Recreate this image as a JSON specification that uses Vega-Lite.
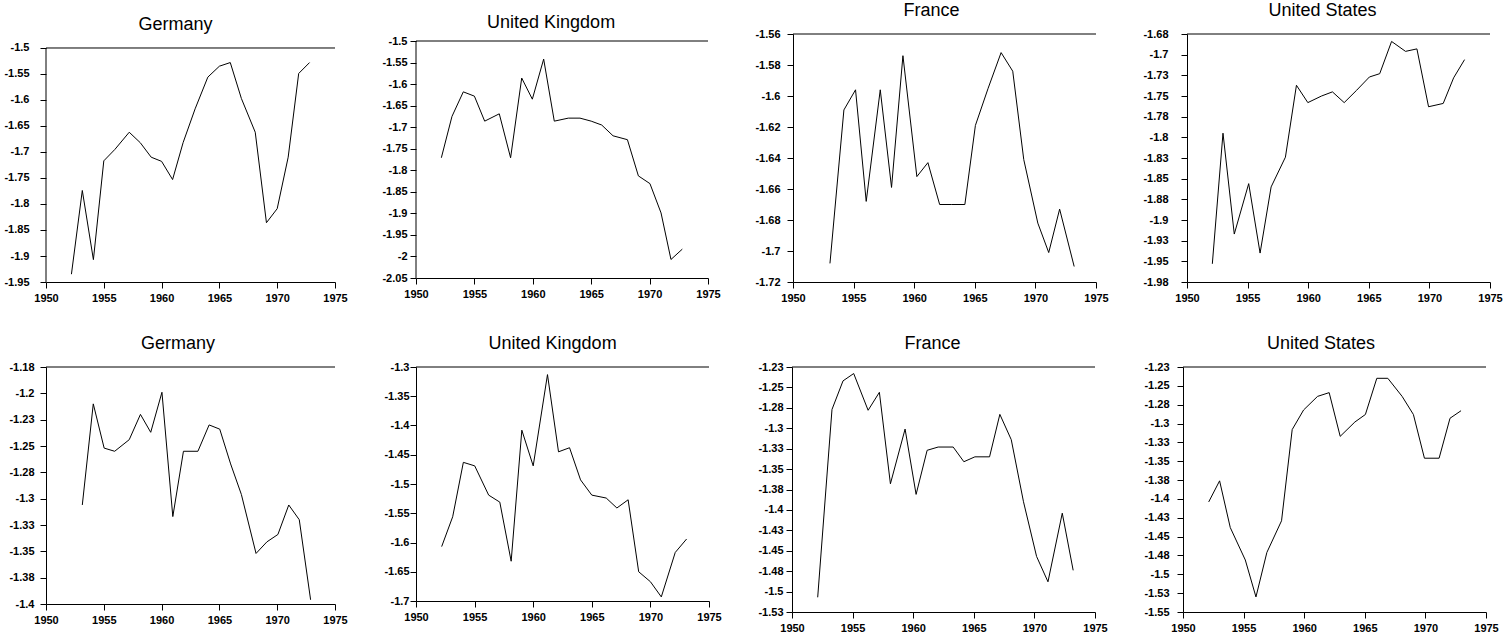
{
  "$schema": "https://vega.github.io/schema/vega-lite/v6.json",
  "padding": {"left": 3, "top": 2, "right": 0, "bottom": 0},
  "background": "white",
  "data": {"values": [
    {"p":"de1","year":1952.2,"v":-1.935},{"p":"de1","year":1953.14,"v":-1.774},{"p":"de1","year":1954.1,"v":-1.907},{"p":"de1","year":1955.0,"v":-1.717},{"p":"de1","year":1955.96,"v":-1.695},{"p":"de1","year":1957.2,"v":-1.662},{"p":"de1","year":1958.15,"v":-1.682},{"p":"de1","year":1959.1,"v":-1.71},{"p":"de1","year":1960.0,"v":-1.718},{"p":"de1","year":1960.95,"v":-1.753},{"p":"de1","year":1961.86,"v":-1.682},{"p":"de1","year":1962.9,"v":-1.617},{"p":"de1","year":1964.0,"v":-1.556},{"p":"de1","year":1965.0,"v":-1.535},{"p":"de1","year":1965.94,"v":-1.528},{"p":"de1","year":1966.9,"v":-1.597},{"p":"de1","year":1968.1,"v":-1.662},{"p":"de1","year":1969.07,"v":-1.836},{"p":"de1","year":1970.0,"v":-1.809},{"p":"de1","year":1970.95,"v":-1.71},{"p":"de1","year":1971.86,"v":-1.549},{"p":"de1","year":1972.8,"v":-1.528},
    {"p":"uk1","year":1952.17,"v":-1.771},{"p":"uk1","year":1953.08,"v":-1.675},{"p":"uk1","year":1954.05,"v":-1.618},{"p":"uk1","year":1955.0,"v":-1.628},{"p":"uk1","year":1955.88,"v":-1.686},{"p":"uk1","year":1957.13,"v":-1.669},{"p":"uk1","year":1958.1,"v":-1.771},{"p":"uk1","year":1959.05,"v":-1.586},{"p":"uk1","year":1959.96,"v":-1.635},{"p":"uk1","year":1960.93,"v":-1.542},{"p":"uk1","year":1961.84,"v":-1.686},{"p":"uk1","year":1963.04,"v":-1.679},{"p":"uk1","year":1964.04,"v":-1.679},{"p":"uk1","year":1965.0,"v":-1.686},{"p":"uk1","year":1965.9,"v":-1.695},{"p":"uk1","year":1966.87,"v":-1.72},{"p":"uk1","year":1968.1,"v":-1.729},{"p":"uk1","year":1969.04,"v":-1.813},{"p":"uk1","year":1970.03,"v":-1.831},{"p":"uk1","year":1970.98,"v":-1.899},{"p":"uk1","year":1971.83,"v":-2.007},{"p":"uk1","year":1972.8,"v":-1.983},
    {"p":"fr1","year":1953.05,"v":-1.708},{"p":"fr1","year":1954.2,"v":-1.609},{"p":"fr1","year":1955.16,"v":-1.596},{"p":"fr1","year":1956.04,"v":-1.668},{"p":"fr1","year":1957.2,"v":-1.596},{"p":"fr1","year":1958.13,"v":-1.659},{"p":"fr1","year":1959.07,"v":-1.574},{"p":"fr1","year":1960.22,"v":-1.652},{"p":"fr1","year":1961.13,"v":-1.643},{"p":"fr1","year":1962.1,"v":-1.67},{"p":"fr1","year":1963.1,"v":-1.67},{"p":"fr1","year":1964.18,"v":-1.67},{"p":"fr1","year":1965.05,"v":-1.619},{"p":"fr1","year":1966.1,"v":-1.595},{"p":"fr1","year":1967.17,"v":-1.572},{"p":"fr1","year":1968.13,"v":-1.584},{"p":"fr1","year":1969.04,"v":-1.641},{"p":"fr1","year":1970.2,"v":-1.682},{"p":"fr1","year":1971.1,"v":-1.701},{"p":"fr1","year":1972.0,"v":-1.673},{"p":"fr1","year":1973.2,"v":-1.71},
    {"p":"us1","year":1952.09,"v":-1.953},{"p":"us1","year":1952.97,"v":-1.795},{"p":"us1","year":1953.9,"v":-1.917},{"p":"us1","year":1955.09,"v":-1.856},{"p":"us1","year":1956.03,"v":-1.94},{"p":"us1","year":1956.94,"v":-1.86},{"p":"us1","year":1958.12,"v":-1.824},{"p":"us1","year":1959.03,"v":-1.737},{"p":"us1","year":1959.97,"v":-1.758},{"p":"us1","year":1961.1,"v":-1.75},{"p":"us1","year":1962.0,"v":-1.745},{"p":"us1","year":1962.97,"v":-1.758},{"p":"us1","year":1964.0,"v":-1.743},{"p":"us1","year":1965.05,"v":-1.727},{"p":"us1","year":1965.9,"v":-1.723},{"p":"us1","year":1966.88,"v":-1.684},{"p":"us1","year":1968.03,"v":-1.696},{"p":"us1","year":1968.97,"v":-1.693},{"p":"us1","year":1969.93,"v":-1.763},{"p":"us1","year":1971.14,"v":-1.759},{"p":"us1","year":1972.0,"v":-1.728},{"p":"us1","year":1972.9,"v":-1.706},
    {"p":"de2","year":1953.14,"v":-1.306},{"p":"de2","year":1954.09,"v":-1.21},{"p":"de2","year":1955.03,"v":-1.252},{"p":"de2","year":1955.94,"v":-1.255},{"p":"de2","year":1957.2,"v":-1.244},{"p":"de2","year":1958.17,"v":-1.22},{"p":"de2","year":1959.06,"v":-1.237},{"p":"de2","year":1960.03,"v":-1.199},{"p":"de2","year":1960.97,"v":-1.317},{"p":"de2","year":1961.89,"v":-1.255},{"p":"de2","year":1963.14,"v":-1.255},{"p":"de2","year":1964.11,"v":-1.23},{"p":"de2","year":1965.03,"v":-1.234},{"p":"de2","year":1965.97,"v":-1.267},{"p":"de2","year":1966.9,"v":-1.296},{"p":"de2","year":1968.17,"v":-1.352},{"p":"de2","year":1969.11,"v":-1.341},{"p":"de2","year":1970.06,"v":-1.334},{"p":"de2","year":1971.0,"v":-1.306},{"p":"de2","year":1971.91,"v":-1.32},{"p":"de2","year":1972.89,"v":-1.396},
    {"p":"uk2","year":1952.19,"v":-1.607},{"p":"uk2","year":1953.13,"v":-1.556},{"p":"uk2","year":1954.04,"v":-1.463},{"p":"uk2","year":1955.01,"v":-1.469},{"p":"uk2","year":1956.2,"v":-1.519},{"p":"uk2","year":1957.15,"v":-1.531},{"p":"uk2","year":1958.12,"v":-1.632},{"p":"uk2","year":1959.03,"v":-1.408},{"p":"uk2","year":1960.0,"v":-1.469},{"p":"uk2","year":1961.22,"v":-1.313},{"p":"uk2","year":1962.16,"v":-1.445},{"p":"uk2","year":1963.1,"v":-1.438},{"p":"uk2","year":1964.04,"v":-1.493},{"p":"uk2","year":1965.0,"v":-1.519},{"p":"uk2","year":1966.23,"v":-1.524},{"p":"uk2","year":1967.14,"v":-1.541},{"p":"uk2","year":1968.1,"v":-1.527},{"p":"uk2","year":1969.0,"v":-1.65},{"p":"uk2","year":1970.0,"v":-1.667},{"p":"uk2","year":1970.93,"v":-1.693},{"p":"uk2","year":1972.12,"v":-1.617},{"p":"uk2","year":1973.09,"v":-1.594},
    {"p":"fr2","year":1952.12,"v":-1.507},{"p":"fr2","year":1953.3,"v":-1.277},{"p":"fr2","year":1954.21,"v":-1.242},{"p":"fr2","year":1955.09,"v":-1.233},{"p":"fr2","year":1956.28,"v":-1.278},{"p":"fr2","year":1957.21,"v":-1.256},{"p":"fr2","year":1958.12,"v":-1.368},{"p":"fr2","year":1959.33,"v":-1.301},{"p":"fr2","year":1960.24,"v":-1.381},{"p":"fr2","year":1961.15,"v":-1.327},{"p":"fr2","year":1962.06,"v":-1.323},{"p":"fr2","year":1963.3,"v":-1.323},{"p":"fr2","year":1964.18,"v":-1.341},{"p":"fr2","year":1965.09,"v":-1.335},{"p":"fr2","year":1966.3,"v":-1.335},{"p":"fr2","year":1967.15,"v":-1.283},{"p":"fr2","year":1968.09,"v":-1.314},{"p":"fr2","year":1969.1,"v":-1.39},{"p":"fr2","year":1970.18,"v":-1.457},{"p":"fr2","year":1971.12,"v":-1.488},{"p":"fr2","year":1972.3,"v":-1.404},{"p":"fr2","year":1973.2,"v":-1.474},
    {"p":"us2","year":1952.12,"v":-1.404},{"p":"us2","year":1953.02,"v":-1.376},{"p":"us2","year":1953.9,"v":-1.438},{"p":"us2","year":1955.14,"v":-1.481},{"p":"us2","year":1956.02,"v":-1.53},{"p":"us2","year":1956.92,"v":-1.471},{"p":"us2","year":1958.13,"v":-1.429},{"p":"us2","year":1959.01,"v":-1.308},{"p":"us2","year":1959.95,"v":-1.282},{"p":"us2","year":1961.1,"v":-1.264},{"p":"us2","year":1962.06,"v":-1.259},{"p":"us2","year":1962.97,"v":-1.317},{"p":"us2","year":1964.18,"v":-1.298},{"p":"us2","year":1965.05,"v":-1.288},{"p":"us2","year":1965.99,"v":-1.24},{"p":"us2","year":1966.9,"v":-1.24},{"p":"us2","year":1968.08,"v":-1.264},{"p":"us2","year":1969.01,"v":-1.288},{"p":"us2","year":1969.92,"v":-1.346},{"p":"us2","year":1971.13,"v":-1.346},{"p":"us2","year":1972.03,"v":-1.293},{"p":"us2","year":1972.94,"v":-1.283}
  ]},
  "spacing": 32,
  "vconcat": [
    {
      "spacing": 33,
      "hconcat": [
        {
          "title": {"text": "Germany", "dy": 8},
          "width": 289, "height": 248,
          "layer": [
            {"transform": [{"filter": "datum.p == 'de1'"}], "mark": "line",
             "encoding": {
               "x": {"field": "year", "type": "quantitative", "title": null, "scale": {"domain": [1950, 1975], "nice": false, "zero": false}, "axis": {"values": [1950, 1955, 1960, 1965, 1970, 1975], "format": "d"}},
               "y": {"field": "v", "type": "quantitative", "title": null, "scale": {"domain": [-1.95, -1.473077], "nice": false, "zero": false}, "axis": {"values": [-1.5, -1.55, -1.6, -1.65, -1.7, -1.75, -1.8, -1.85, -1.9, -1.95], "tickCount": 40, "domain": false, "labelPadding": 11, "labelExpr": "'-' + (round(-datum.value * 100 + 0.001) / 100)"}}
             }},
            {"data": {"values": [{}]}, "mark": "rule", "encoding": {"y": {"datum": -1.5}}},
            {"data": {"values": [{}]}, "mark": "rule", "encoding": {"x": {"datum": 1950}, "y": {"datum": -1.95}, "y2": {"datum": -1.5}}}
          ]
        },
        {
          "title": {"text": "United Kingdom", "dy": 6},
          "width": 292, "height": 244,
          "layer": [
            {"transform": [{"filter": "datum.p == 'uk1'"}], "mark": "line",
             "encoding": {
               "x": {"field": "year", "type": "quantitative", "title": null, "scale": {"domain": [1950, 1975], "nice": false, "zero": false}, "axis": {"values": [1950, 1955, 1960, 1965, 1970, 1975], "format": "d"}},
               "y": {"field": "v", "type": "quantitative", "title": null, "scale": {"domain": [-2.05, -1.483755], "nice": false, "zero": false}, "axis": {"values": [-1.5, -1.55, -1.6, -1.65, -1.7, -1.75, -1.8, -1.85, -1.9, -1.95, -2, -2.05], "tickCount": 40, "domain": false, "labelPadding": 3, "labelExpr": "'-' + (round(-datum.value * 100 + 0.001) / 100)"}}
             }},
            {"data": {"values": [{}]}, "mark": "rule", "encoding": {"y": {"datum": -1.5}}},
            {"data": {"values": [{}]}, "mark": "rule", "encoding": {"x": {"datum": 1950}, "y": {"datum": -2.05}, "y2": {"datum": -1.5}}}
          ]
        },
        {
          "title": "France",
          "width": 303, "height": 248,
          "layer": [
            {"transform": [{"filter": "datum.p == 'fr1'"}], "mark": "line",
             "encoding": {
               "x": {"field": "year", "type": "quantitative", "title": null, "scale": {"domain": [1950, 1975], "nice": false, "zero": false}, "axis": {"values": [1950, 1955, 1960, 1965, 1970, 1975], "format": "d"}},
               "y": {"field": "v", "type": "quantitative", "title": null, "scale": {"domain": [-1.72, -1.56], "nice": false, "zero": false}, "axis": {"values": [-1.56, -1.58, -1.6, -1.62, -1.64, -1.66, -1.68, -1.7, -1.72], "tickCount": 40, "labelPadding": 7, "labelExpr": "'-' + (round(-datum.value * 100 + 0.001) / 100)"}}
             }},
            {"data": {"values": [{}]}, "mark": "rule", "encoding": {"y": {"datum": -1.56}}}
          ]
        },
        {
          "title": "United States",
          "width": 303, "height": 248,
          "layer": [
            {"transform": [{"filter": "datum.p == 'us1'"}], "mark": "line",
             "encoding": {
               "x": {"field": "year", "type": "quantitative", "title": null, "scale": {"domain": [1950, 1975], "nice": false, "zero": false}, "axis": {"values": [1950, 1955, 1960, 1965, 1970, 1975], "format": "d"}},
               "y": {"field": "v", "type": "quantitative", "title": null, "scale": {"domain": [-1.975, -1.675], "nice": false, "zero": false}, "axis": {"values": [-1.675, -1.7, -1.725, -1.75, -1.775, -1.8, -1.825, -1.85, -1.875, -1.9, -1.925, -1.95, -1.975], "tickCount": 40, "labelPadding": 13, "labelExpr": "'-' + (round(-datum.value * 100 + 0.001) / 100)"}}
             }},
            {"data": {"values": [{}]}, "mark": "rule", "encoding": {"y": {"datum": -1.675}}}
          ]
        }
      ]
    },
    {
      "spacing": 35,
      "hconcat": [
        {
          "title": "Germany",
          "width": 289, "height": 237,
          "layer": [
            {"transform": [{"filter": "datum.p == 'de2'"}], "mark": "line",
             "encoding": {
               "x": {"field": "year", "type": "quantitative", "title": null, "scale": {"domain": [1950, 1975], "nice": false, "zero": false}, "axis": {"values": [1950, 1955, 1960, 1965, 1970, 1975], "format": "d"}},
               "y": {"field": "v", "type": "quantitative", "title": null, "scale": {"domain": [-1.4, -1.175], "nice": false, "zero": false}, "axis": {"values": [-1.175, -1.2, -1.225, -1.25, -1.275, -1.3, -1.325, -1.35, -1.375, -1.4], "tickCount": 40, "labelPadding": 6, "labelExpr": "'-' + (round(-datum.value * 100 + 0.001) / 100)"}}
             }},
            {"data": {"values": [{}]}, "mark": "rule", "encoding": {"y": {"datum": -1.175}}}
          ]
        },
        {
          "title": "United Kingdom",
          "width": 293, "height": 234,
          "layer": [
            {"transform": [{"filter": "datum.p == 'uk2'"}], "mark": "line",
             "encoding": {
               "x": {"field": "year", "type": "quantitative", "title": null, "scale": {"domain": [1950, 1975], "nice": false, "zero": false}, "axis": {"values": [1950, 1955, 1960, 1965, 1970, 1975], "format": "d"}},
               "y": {"field": "v", "type": "quantitative", "title": null, "scale": {"domain": [-1.7, -1.3], "nice": false, "zero": false}, "axis": {"values": [-1.3, -1.35, -1.4, -1.45, -1.5, -1.55, -1.6, -1.65, -1.7], "tickCount": 40, "labelPadding": 1, "labelExpr": "'-' + (round(-datum.value * 100 + 0.001) / 100)"}}
             }},
            {"data": {"values": [{}]}, "mark": "rule", "encoding": {"y": {"datum": -1.3}}}
          ]
        },
        {
          "title": "France",
          "width": 303, "height": 245,
          "layer": [
            {"transform": [{"filter": "datum.p == 'fr2'"}], "mark": "line",
             "encoding": {
               "x": {"field": "year", "type": "quantitative", "title": null, "scale": {"domain": [1950, 1975], "nice": false, "zero": false}, "axis": {"values": [1950, 1955, 1960, 1965, 1970, 1975], "format": "d"}},
               "y": {"field": "v", "type": "quantitative", "title": null, "scale": {"domain": [-1.525, -1.225], "nice": false, "zero": false}, "axis": {"values": [-1.225, -1.25, -1.275, -1.3, -1.325, -1.35, -1.375, -1.4, -1.425, -1.45, -1.475, -1.5, -1.525], "tickCount": 40, "labelPadding": 3, "labelExpr": "'-' + (round(-datum.value * 100 + 0.001) / 100)"}}
             }},
            {"data": {"values": [{}]}, "mark": "rule", "encoding": {"y": {"datum": -1.225}}}
          ]
        },
        {
          "title": "United States",
          "width": 303, "height": 245,
          "layer": [
            {"transform": [{"filter": "datum.p == 'us2'"}], "mark": "line",
             "encoding": {
               "x": {"field": "year", "type": "quantitative", "title": null, "scale": {"domain": [1950, 1975], "nice": false, "zero": false}, "axis": {"values": [1950, 1955, 1960, 1965, 1970, 1975], "format": "d"}},
               "y": {"field": "v", "type": "quantitative", "title": null, "scale": {"domain": [-1.55, -1.225], "nice": false, "zero": false}, "axis": {"values": [-1.225, -1.25, -1.275, -1.3, -1.325, -1.35, -1.375, -1.4, -1.425, -1.45, -1.475, -1.5, -1.525, -1.55], "tickCount": 40, "labelPadding": 8, "labelExpr": "'-' + (round(-datum.value * 100 + 0.001) / 100)"}}
             }},
            {"data": {"values": [{}]}, "mark": "rule", "encoding": {"y": {"datum": -1.225}}}
          ]
        }
      ]
    }
  ],
  "config": {
    "view": {"stroke": null},
    "axis": {"domainColor": "#000", "tickColor": "#000", "labelColor": "#000", "labelFont": "Liberation Sans", "labelFontSize": 11, "labelFontWeight": "bold", "tickSize": 6, "grid": false, "labelFlush": false, "labelOverlap": false, "domainWidth": 1, "tickWidth": 1, "tickCount": 40},
    "axisX": {"labelPadding": 4},
    "title": {"font": "Liberation Sans", "fontSize": 18, "fontWeight": "normal", "color": "#000", "frame": "bounds", "anchor": "middle", "offset": 8},
    "line": {"color": "#000", "strokeWidth": 1},
    "rule": {"color": "#000", "strokeWidth": 1}
  }
}
